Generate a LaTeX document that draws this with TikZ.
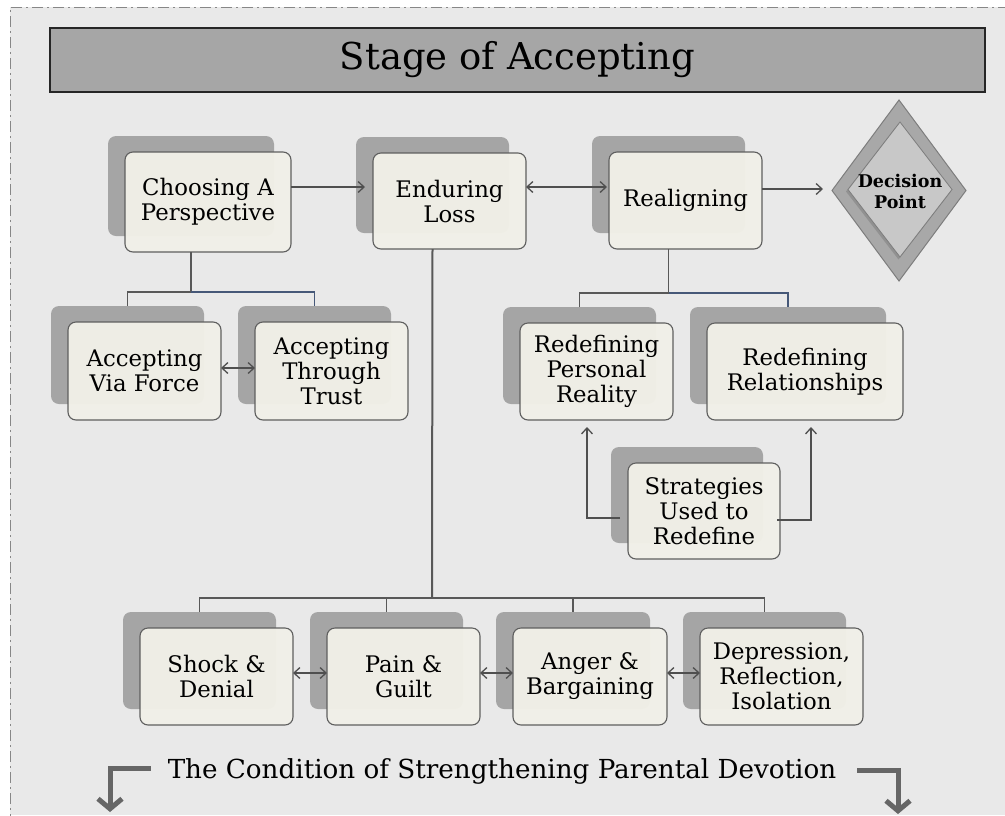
\documentclass[tikz,border=0pt]{standalone}
\usepackage{fontspec}
\setmainfont{DejaVu Serif}
\usetikzlibrary{arrows.meta,shapes.geometric,calc}

\definecolor{pagebg}{RGB}{233,233,233}
\definecolor{framegray}{RGB}{135,135,135}
\definecolor{barfill}{RGB}{166,166,166}
\definecolor{cardfill}{RGB}{241,240,232}
\definecolor{cardline}{RGB}{95,95,95}
\definecolor{shadowfill}{RGB}{165,165,165}
\definecolor{wire}{RGB}{88,88,88}
\definecolor{wireblue}{RGB}{70,88,120}
\definecolor{bentgray}{RGB}{102,102,102}
\definecolor{diamondout}{RGB}{168,168,168}
\definecolor{diamondin}{RGB}{200,200,200}
\definecolor{diamondedge}{RGB}{125,125,125}
\definecolor{diamonddark}{RGB}{145,145,145}

\newcommand\cardfont{\fontsize{22.8}{25}\selectfont}

% a card: grey offset backing plate plus the cream rounded box on top
\newcommand\cardnode[6]{%
  \node[cardshadow, minimum width=#4, minimum height=#5] (#1-sh) at ({#2-17},{#3-16}) {};
  \node[card, minimum width=#4, minimum height=#5] (#1) at (#2,#3) {#6};}

\begin{document}
\begin{tikzpicture}[x=1pt,y=-1pt,
  cardshadow/.style={fill=shadowfill, rounded corners=8pt, inner sep=0pt, outer sep=0pt},
  card/.style={fill=cardfill, fill opacity=0.97, text opacity=1, draw=cardline,
    line width=1.1pt, rounded corners=8pt, inner sep=0pt, outer sep=0pt,
    align=center, font=\cardfont, text=black},
  tree/.style={draw=wire, line width=1.4pt},
  treeblue/.style={draw=wireblue, line width=1.4pt},
  arr/.style={draw=wire!90!black, line width=1.3pt, -{Straight Barb[length=6pt,width=11pt]}},
  dblarr/.style={draw=wire!90!black, line width=1.3pt,
    {Straight Barb[length=6pt,width=11pt]}-{Straight Barb[length=6pt,width=11pt]}},
  bent/.style={draw=bentgray, line width=5pt,
    -{Straight Barb[length=10pt,width=24pt]}},
  titlebar/.style={fill=barfill, draw=black!85, line width=1.5pt, inner sep=0pt,
    minimum width=935, minimum height=64, font=\fontsize{37}{40}\selectfont, text=black},
]
\useasboundingbox (0,0) rectangle (1005,815);
\fill[white] (0,0) rectangle (1005,815);
\fill[pagebg] (10,7) rectangle (1005,815);
\draw[framegray, line width=0.9pt, dash pattern=on 11pt off 4pt on 2pt off 4pt]
  (1030,7) -- (10,7) -- (10,840);

% heading
\node[titlebar] (title) at (517.5,60) {Stage of Accepting};

% cards
\cardnode{choose}{208}{202}{166}{100}{Choosing A\\Perspective}
\cardnode{endure}{449.5}{201}{153}{96}{Enduring\\Loss}
\cardnode{realign}{685.5}{200.5}{153}{97}{Realigning}
\cardnode{viaforce}{144.5}{371}{153}{98}{Accepting\\Via Force}
\cardnode{trust}{331.5}{371}{153}{98}{Accepting\\Through\\Trust}
\cardnode{personal}{596.5}{371.5}{153}{97}{Redefining\\Personal\\Reality}
\cardnode{relation}{805}{371.5}{196}{97}{Redefining\\Relationships}
\cardnode{strategies}{704}{511}{152}{96}{Strategies\\Used to\\Redefine}
\cardnode{shock}{216.5}{676.5}{153}{97}{Shock \&\\Denial}
\cardnode{pain}{403.5}{676.5}{153}{97}{Pain \&\\Guilt}
\cardnode{anger}{590}{676.5}{154}{97}{Anger \&\\Bargaining}
\cardnode{depress}{781.5}{676.5}{163}{97}{Depression,\\Reflection,\\Isolation}

% decision diamond
\node[diamond, fill=diamondout, draw=diamondedge, line width=1pt, inner sep=0pt, outer sep=0pt,
  minimum width=134, minimum height=181] (decision) at (899,190.5) {};
\node[diamond, fill=diamonddark, inner sep=0pt, outer sep=0pt,
  minimum width=105, minimum height=136] (decision-sh) at (898.5,191.5) {};
\node[diamond, fill=diamondin, draw=diamondedge, line width=0.8pt, inner sep=0pt, outer sep=0pt,
  minimum width=104, minimum height=135] (decision-in) at (900,189.5) {};
\node[font=\fontsize{17.5}{21}\bfseries\selectfont, align=center, inner sep=0pt, text=black]
  (decision-label) at (900,191) {Decision\\Point};

% top row links
\draw[arr] ([yshift=15pt]choose.east) -- ([xshift=-8pt,yshift=14pt]endure.west);
\draw[dblarr] ([yshift=14pt]endure.east) -- ([xshift=-2pt,yshift=13.5pt]realign.west);
\draw[arr, shorten >=9pt] ([yshift=11.5pt]realign.east) -- ([yshift=1.5pt]decision.west);

% perspective branch
\draw[tree] (choose.south -| choose-sh.south) -- ++(0,40) -| (viaforce-sh.north);
\draw[treeblue] (choose.south -| choose-sh.south) ++(0,40) -| (trust-sh.north);
\draw[dblarr] ([yshift=3pt]viaforce.east) -- ([yshift=3pt]trust.west);

% realigning branch
\draw[tree] (realign.south -| realign-sh.south) -- ++(0,44) -| (personal-sh.north);
\draw[treeblue] (realign.south -| realign-sh.south) ++(0,44) -| (relation-sh.north);
\draw[arr, shorten >=7pt] ([xshift=-8pt,yshift=-7pt]strategies.west) -| ([xshift=-9.5pt]personal.south);
\draw[arr, shorten >=7pt] ([xshift=-3pt,yshift=-9pt]strategies.east) -| ([xshift=6pt]relation.south);

% loss branch
\coordinate (lossbus) at (432,598);
\draw[tree, line width=2pt] (endure.south -| endure-sh.south) -- (lossbus);
\foreach \n in {shock,pain,anger,depress} \draw[tree] (lossbus) -| (\n-sh.north);
\draw[dblarr] ([yshift=3.5pt]shock.east) -- ([yshift=3.5pt]pain.west);
\draw[dblarr] ([yshift=3.5pt]pain.east) -- ([yshift=3.5pt]anger.west);
\draw[dblarr] ([yshift=3.5pt]anger.east) -- ([yshift=3.5pt]depress.west);

% closing line
\node[font=\fontsize{26.2}{30}\selectfont, inner sep=0pt, anchor=base, text=black]
  (devotion) at (502,778) {The Condition of Strengthening Parental Devotion};
\coordinate (dropleft) at (110,812);
\coordinate (dropright) at (898,814);
\draw[bent] ([xshift=-17pt,yshift=2.5pt]devotion.west) -| (dropleft);
\draw[bent] ([xshift=21pt]devotion.east) -| (dropright);
\end{tikzpicture}
\end{document}
